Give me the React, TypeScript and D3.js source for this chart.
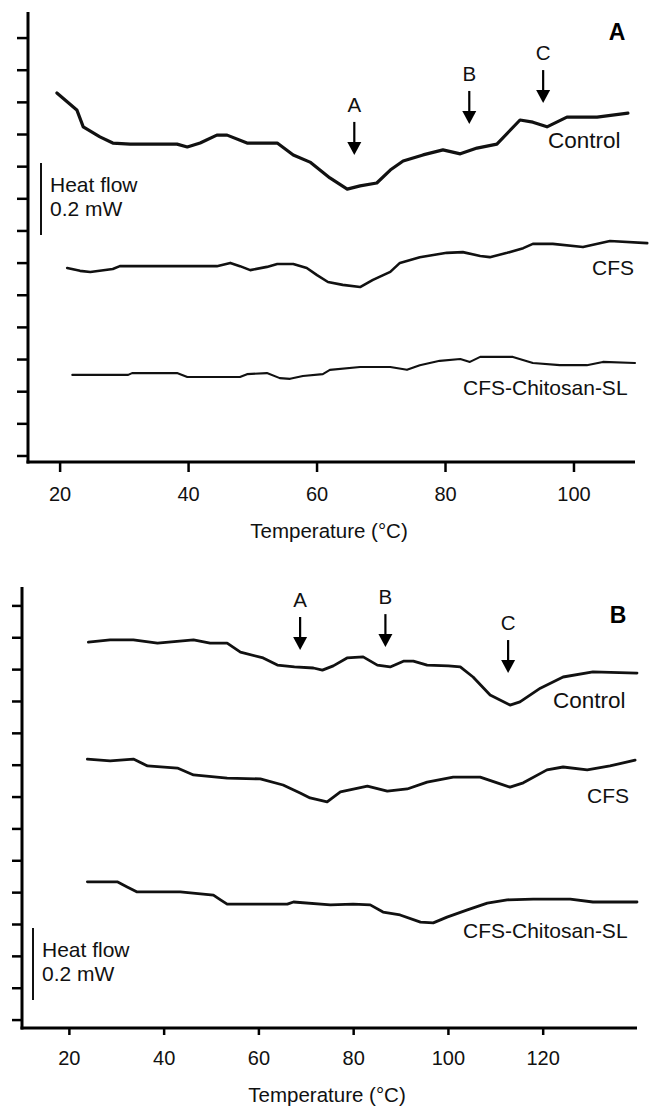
import React from "react";
import * as d3 from "d3";

// ---------- Panel A data (temperature °C, heat flow mW, arbitrary offset) ----------
const panelATicks = [20, 40, 60, 80, 100];
const controlA: [number, number][] = [
  [19.5, 1.025], [22.6, 0.978], [23.6, 0.931], [26.2, 0.903], [28.2, 0.886], [30.9, 0.883],
  [38.2, 0.883], [39.8, 0.875], [41.8, 0.886], [44.4, 0.908], [46.0, 0.908], [49.1, 0.886],
  [53.8, 0.886], [56.3, 0.853], [58.9, 0.833], [62.0, 0.789], [64.7, 0.758], [66.7, 0.767],
  [69.3, 0.775], [71.4, 0.811], [73.4, 0.836], [76.5, 0.853], [79.6, 0.867], [82.3, 0.856],
  [84.9, 0.872], [88.0, 0.883], [91.6, 0.95], [93.6, 0.944], [95.8, 0.931], [98.9, 0.958],
  [103.6, 0.958], [108.4, 0.969],
];
const cfsA: [number, number][] = [
  [21.1, 0.539], [23.1, 0.531], [24.7, 0.528], [28.2, 0.536], [29.3, 0.544], [44.4, 0.544],
  [46.5, 0.553], [48.0, 0.544], [49.6, 0.533], [52.2, 0.542], [53.8, 0.55], [56.3, 0.55],
  [58.4, 0.539], [60.0, 0.519], [61.7, 0.5], [64.0, 0.492], [66.7, 0.486], [68.7, 0.506],
  [71.4, 0.528], [72.9, 0.553], [76.0, 0.569], [80.2, 0.581], [82.7, 0.583], [85.4, 0.572],
  [86.9, 0.569], [89.6, 0.581], [92.1, 0.594], [93.6, 0.606], [96.7, 0.606], [101.4, 0.597],
  [105.6, 0.614], [111.4, 0.608],
];
const chitosanA: [number, number][] = [
  [21.9, 0.242], [30.6, 0.242], [31.2, 0.247], [38.2, 0.247], [39.8, 0.236], [48.0, 0.236],
  [49.1, 0.244], [52.2, 0.247], [54.2, 0.233], [55.8, 0.231], [57.8, 0.239], [60.9, 0.244],
  [62.0, 0.256], [66.7, 0.264], [71.4, 0.264], [74.0, 0.256], [76.0, 0.269], [79.1, 0.281],
  [82.3, 0.286], [83.8, 0.278], [85.4, 0.292], [90.5, 0.292], [93.6, 0.275], [97.8, 0.269],
  [102.0, 0.269], [104.5, 0.278], [109.5, 0.275],
];
// arrows: [label, temperature, heat flow at arrow tip]
const arrowsA: [string, number, number][] = [["A", 65.8, 0.853], ["B", 83.7, 0.939], ["C", 95.2, 0.997]];

// ---------- Panel B data ----------
const panelBTicks = [20, 40, 60, 80, 100, 120];
const controlB: [number, number][] = [
  [24.0, 1.072], [28.6, 1.078], [33.5, 1.078], [38.6, 1.069], [46.2, 1.078], [49.7, 1.069],
  [53.3, 1.069], [56.1, 1.044], [60.9, 1.028], [63.9, 1.008], [67.5, 1.003], [71.5, 1.0],
  [73.4, 0.994], [75.7, 1.006], [78.6, 1.028], [82.0, 1.031], [85.0, 1.008], [87.7, 1.003],
  [90.5, 1.019], [92.6, 1.019], [95.5, 1.008], [100.0, 1.006], [102.5, 1.003], [105.2, 0.975],
  [108.8, 0.925], [113.0, 0.897], [115.1, 0.906], [119.4, 0.944], [124.2, 0.975], [130.5, 0.989],
  [139.8, 0.986],
];
const cfsB: [number, number][] = [
  [23.8, 0.747], [28.6, 0.742], [33.5, 0.747], [36.5, 0.728], [42.8, 0.722], [46.2, 0.703],
  [53.3, 0.694], [60.3, 0.692], [65.1, 0.675], [68.7, 0.653], [70.8, 0.639], [74.4, 0.628],
  [77.2, 0.656], [82.9, 0.672], [87.1, 0.658], [91.3, 0.664], [95.5, 0.683], [101.0, 0.697],
  [106.7, 0.697], [110.3, 0.681], [113.0, 0.669], [115.8, 0.681], [120.8, 0.717], [124.2, 0.725],
  [129.3, 0.717], [134.1, 0.728], [139.4, 0.744],
];
const chitosanB: [number, number][] = [
  [23.8, 0.406], [30.1, 0.406], [32.2, 0.392], [34.3, 0.378], [43.4, 0.378], [50.4, 0.369],
  [51.9, 0.356], [53.3, 0.344], [66.0, 0.344], [67.3, 0.35], [75.1, 0.342], [79.9, 0.344],
  [83.5, 0.342], [86.2, 0.322], [89.8, 0.314], [94.1, 0.294], [96.8, 0.292], [99.7, 0.308],
  [104.0, 0.328], [108.2, 0.347], [112.4, 0.356], [117.9, 0.358], [125.7, 0.358], [130.5, 0.35],
  [139.8, 0.35],
];
const arrowsB: [string, number, number][] = [["A", 68.7, 1.05], ["B", 86.7, 1.058], ["C", 112.6, 0.986]];

const FONT = "'Liberation Sans', Arial, Helvetica, sans-serif";

type Series = { data: [number, number][]; width: number; label: string; lx: number; ly: number; fs: number };

function Panel(props: {
  xDomain: [number, number];
  xRange: [number, number];
  yDomain: [number, number];
  yRange: [number, number];
  xTicks: number[];
  yTickStart: number;
  yTickStep: number;
  series: Series[];
  arrows: [string, number, number][];
  letter: string;
  letterX: number;
  letterY: number;
  barX: number;
  barTop: number;
  tickLabelY: number;
  titleX: number;
  titleY: number;
  xTickLen: number;
  yTickLen: number;
}) {
  const x = d3.scaleLinear().domain(props.xDomain).range(props.xRange);
  const y = d3.scaleLinear().domain(props.yDomain).range(props.yRange);
  const line = d3
    .line<[number, number]>()
    .x((d) => x(d[0]))
    .y((d) => y(d[1]));
  const yTicks = d3.range(14).map((i) => props.yTickStart + i * props.yTickStep);
  const x0 = props.xRange[0];
  const x1 = props.xRange[1];
  const yb = props.yRange[0];
  const yt = props.yRange[1];
  const barLen = y(0) - y(0.2);
  return (
    <g>
      {/* curves */}
      {props.series.map((s, i) => (
        <path
          key={i}
          d={line(s.data) || ""}
          fill="none"
          stroke="#111"
          strokeWidth={s.width}
          strokeLinejoin="round"
          strokeLinecap="round"
        />
      ))}
      {props.series.map((s, i) => (
        <text key={"l" + i} x={s.lx} y={s.ly} fontSize={s.fs} fontFamily={FONT} fill="#111">
          {s.label}
        </text>
      ))}
      {/* axes */}
      <line x1={x0} x2={x0} y1={yt} y2={yb + 1.5} stroke="#000" strokeWidth={3} />
      <line x1={x0 - 1.5} x2={x1} y1={yb} y2={yb} stroke="#000" strokeWidth={3} />
      {yTicks.map((t, i) => (
        <line key={"yt" + i} x1={x0 - props.yTickLen} x2={x0} y1={y(t)} y2={y(t)} stroke="#000" strokeWidth={2.5} />
      ))}
      {props.xTicks.map((t) => (
        <g key={"xt" + t}>
          <line x1={x(t)} x2={x(t)} y1={yb} y2={yb + props.xTickLen} stroke="#000" strokeWidth={2.5} />
          <text x={x(t)} y={props.tickLabelY} textAnchor="middle" fontSize={20} fontFamily={FONT} fill="#111">
            {t}
          </text>
        </g>
      ))}
      <text x={props.titleX} y={props.titleY} textAnchor="middle" fontSize={20.5} fontFamily={FONT} fill="#111">
        Temperature (°C)
      </text>
      {/* scale bar */}
      <line x1={props.barX} x2={props.barX} y1={props.barTop} y2={props.barTop + barLen} stroke="#111" strokeWidth={2} />
      <text x={props.barX + 9} y={props.barTop + 29} fontSize={21} fontFamily={FONT} fill="#111">
        Heat flow
      </text>
      <text x={props.barX + 9} y={props.barTop + 53} fontSize={21} fontFamily={FONT} fill="#111">
        0.2 mW
      </text>
      {/* arrows */}
      {props.arrows.map(([lab, t, v]) => {
        const ax = x(t);
        const tip = y(v);
        return (
          <g key={"a" + lab}>
            <line x1={ax} x2={ax} y1={tip - 33} y2={tip - 10} stroke="#000" strokeWidth={2.2} />
            <path d={`M${ax - 7},${tip - 13} L${ax + 7},${tip - 13} L${ax},${tip} Z`} fill="#000" />
            <text x={ax} y={tip - 43} textAnchor="middle" fontSize={20.5} fontFamily={FONT} fill="#111">
              {lab}
            </text>
          </g>
        );
      })}
      <text
        x={props.letterX}
        y={props.letterY}
        textAnchor="middle"
        fontSize={23}
        fontWeight="bold"
        fontFamily={FONT}
        fill="#000"
      >
        {props.letter}
      </text>
    </g>
  );
}

export default function App() {
  return (
    <svg
      width={654}
      height={1108}
      viewBox="0 0 654 1108"
      style={{ position: "absolute", left: 0, top: 0, background: "#fff" }}
    >
      <rect x={0} y={0} width={654} height={1108} fill="#fff" />
      <Panel
        xDomain={[15, 109.5]}
        xRange={[28, 635]}
        yDomain={[0, 1.25]}
        yRange={[462, 12]}
        xTicks={panelATicks}
        yTickStart={0.0167}
        yTickStep={0.0893}
        series={[
          { data: controlA, width: 3.2, label: "Control", lx: 548, ly: 148, fs: 22.5 },
          { data: cfsA, width: 2.6, label: "CFS", lx: 592, ly: 275, fs: 21 },
          { data: chitosanA, width: 2.1, label: "CFS-Chitosan-SL", lx: 463, ly: 395, fs: 21 },
        ]}
        arrows={arrowsA}
        letter="A"
        letterX={617}
        letterY={40}
        barX={41}
        barTop={163}
        tickLabelY={501}
        titleX={329}
        titleY={538}
        xTickLen={10}
        yTickLen={11}
      />
      <Panel
        xDomain={[10, 139.8]}
        xRange={[22, 637]}
        yDomain={[0, 1.225]}
        yRange={[1028, 587]}
        xTicks={panelBTicks}
        yTickStart={0.022}
        yTickStep={0.0885}
        series={[
          { data: controlB, width: 2.8, label: "Control", lx: 553, ly: 708, fs: 22.5 },
          { data: cfsB, width: 2.8, label: "CFS", lx: 587, ly: 803, fs: 21 },
          { data: chitosanB, width: 2.8, label: "CFS-Chitosan-SL", lx: 463, ly: 938, fs: 21 },
        ]}
        arrows={arrowsB}
        letter="B"
        letterX={618}
        letterY={623}
        barX={33}
        barTop={928}
        tickLabelY={1065}
        titleX={327}
        titleY={1102}
        xTickLen={7}
        yTickLen={10}
      />
    </svg>
  );
}
